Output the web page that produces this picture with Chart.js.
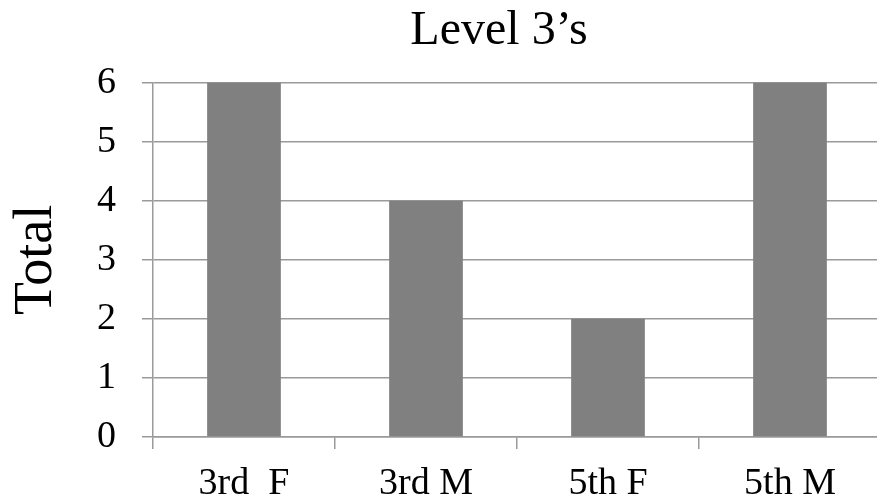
<!DOCTYPE html>
<html>
<head>
<meta charset="utf-8">
<script src="https://cdn.jsdelivr.net/npm/chart.js@4/dist/chart.umd.min.js"></script>
<style>
  html, body { margin: 0; padding: 0; background: #fff; overflow: hidden; }
  #wrap { width: 890px; height: 502px; }
</style>
</head>
<body>
<div id="wrap"><canvas id="chart"></canvas></div>
<script>
const categories = ["3rd  F", "3rd M", "5th F", "5th M"];
const totals = [6, 4, 2, 6];
const yMin = 0;
const yMax = 6;
const yStep = 1;

const chartTitle = "Level 3\u2019s";
const yTitle = "Total";

const serif = "'Liberation Serif', 'Times New Roman', serif";
const lineGray = "#9a9a9a";

new Chart(document.getElementById("chart"), {
  type: "bar",
  data: {
    labels: categories,
    datasets: [
      {
        data: totals,
        backgroundColor: "#808080",
        borderWidth: 0,
        categoryPercentage: 1,
        barPercentage: 0.405,
      },
    ],
  },
  options: {
    responsive: true,
    maintainAspectRatio: false,
    animation: false,
    layout: {
      // labels sit low, so let the axis box run past the bottom edge
      padding: { left: 0, right: 9, top: 0, bottom: -18 },
    },
    plugins: {
      legend: { display: false },
      tooltip: { enabled: false },
      title: {
        display: true,
        fullSize: false, // center over the plot, not the whole canvas
        text: chartTitle + "   ",
        color: "#000",
        font: { family: serif, size: 48, weight: "normal", lineHeight: 1.2 },
        padding: { top: 3, bottom: 22 },
      },
    },
    scales: {
      x: {
        grid: {
          display: true,
          drawOnChartArea: false,
          drawTicks: true,
          tickLength: 12,
          color: lineGray,
          lineWidth: 1.5,
          offset: true,
        },
        border: { display: true, color: lineGray, width: 1.5 },
        ticks: {
          color: "#000",
          padding: 26,
          font: { family: serif, size: 38, lineHeight: 0.5 },
          maxRotation: 0,
        },
      },
      y: {
        min: yMin,
        max: yMax,
        ticks: {
          stepSize: yStep,
          color: "#000",
          padding: 26,
          font: { family: serif, size: 38, lineHeight: 1 },
        },
        grid: {
          color: lineGray,
          lineWidth: 1.5,
          tickLength: 11,
        },
        border: { display: true, color: lineGray, width: 1.5 },
        title: {
          display: true,
          text: yTitle,
          color: "#000",
          font: { family: serif, size: 54, lineHeight: 1 },
          padding: { top: 10, bottom: 7 },
        },
      },
    },
  },
});
</script>
</body>
</html>
